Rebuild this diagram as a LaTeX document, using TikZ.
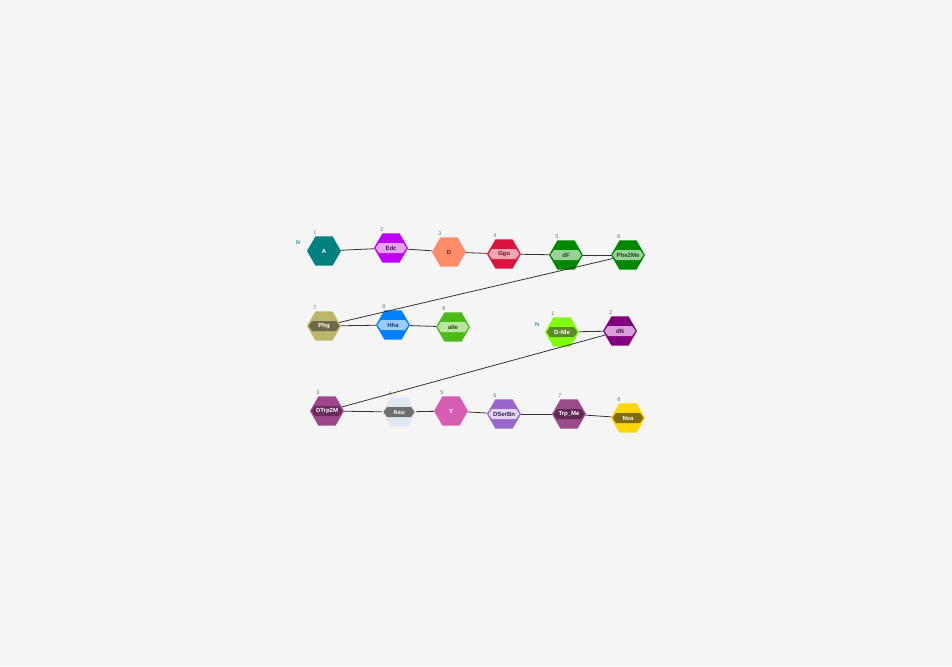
\documentclass[tikz,border=0pt]{standalone}
\usepackage{fontspec}
\setmainfont{Liberation Sans}
\usetikzlibrary{shapes.geometric,shapes.symbols}
\definecolor{bg}{HTML}{F5F5F5}
\definecolor{edgegrey}{HTML}{333333}
\definecolor{numgrey}{HTML}{707070}
\definecolor{nteal}{HTML}{2A93A8}
\definecolor{cA}{HTML}{008080}
\definecolor{cEdc}{HTML}{BF00FF}\definecolor{tEdc}{HTML}{E6A2F2}\definecolor{xEdc}{HTML}{4A1050}
\definecolor{cD}{HTML}{FF8C69}\definecolor{xD}{HTML}{5A2A1A}
\definecolor{cGgu}{HTML}{DC143C}\definecolor{tGgu}{HTML}{F4A6B4}\definecolor{xGgu}{HTML}{5A1020}
\definecolor{cGreen}{HTML}{008800}\definecolor{tGreen}{HTML}{99D199}\definecolor{xGreen}{HTML}{1A4A1A}
\definecolor{cPhg}{HTML}{BDB76B}\definecolor{tPhg}{HTML}{6B6A48}
\definecolor{cHha}{HTML}{0080FF}\definecolor{tHha}{HTML}{99CCFF}\definecolor{xHha}{HTML}{1A3A6A}
\definecolor{cIle}{HTML}{4CBB17}\definecolor{tIle}{HTML}{B8E6A0}\definecolor{xIle}{HTML}{1A4A10}
\definecolor{cNle}{HTML}{7FFF00}\definecolor{tNle}{HTML}{5B8C2A}
\definecolor{cdN}{HTML}{800080}\definecolor{tdN}{HTML}{D8A0D8}\definecolor{xdN}{HTML}{4A104A}
\definecolor{cTrp}{HTML}{9E468C}\definecolor{tTrp}{HTML}{6A2A5C}
\definecolor{cAsu}{HTML}{E2E6EE}\definecolor{tAsu}{HTML}{6E7070}
\definecolor{cY}{HTML}{D65DB1}
\definecolor{cSer}{HTML}{9966CC}\definecolor{tSer}{HTML}{E2D6F2}\definecolor{xSer}{HTML}{3A2050}
\definecolor{cTme}{HTML}{9B4A8B}\definecolor{tTme}{HTML}{5E2A52}
\definecolor{cNva}{HTML}{FFD700}\definecolor{tNva}{HTML}{7F6A10}
\tikzset{
  hex/.style={regular polygon, regular polygon sides=6, minimum size=34pt, inner sep=0pt, draw=none},
  tag/.style={signal, signal to=east and west, signal pointer angle=110, minimum width=31pt, minimum height=10pt, inner sep=0pt, font=\fontsize{6}{6}\selectfont\bfseries},
  plaintxt/.style={font=\fontsize{6}{6}\selectfont\bfseries},
  idx/.style={font=\fontsize{5.5}{5.5}\selectfont, text=numgrey, inner sep=0pt},
  link/.style={draw=edgegrey, line width=0.8pt},
  nterm/.style={font=\fontsize{5.5}{5.5}\selectfont\bfseries, text=nteal, inner sep=0pt}
}
\newcommand\resbox[8]{%
  \node[hex, fill=#4] (#1) at (#2,#3) {};
  \node[tag, fill=#5, text=#6] (#1-t) at (#1.center) {#7};
  \node[idx] (#1-n) at ([shift={(-9,-18)}]#1.center) {#8};
}
\newcommand\resplain[7]{%
  \node[hex, fill=#4, text=#5, plaintxt] (#1) at (#2,#3) {#6};
  \node[idx] (#1-n) at ([shift={(-9,-18)}]#1.center) {#7};
}
\begin{document}
\begin{tikzpicture}[x=1pt,y=-1pt]
\fill[bg] (0,0) rectangle (952,666);
\useasboundingbox (0,0) rectangle (952,666);
% chain 1
\resplain{r1}{324}{251}{cA}{white}{A}{1}
\resbox{r2}{391}{248}{cEdc}{tEdc}{xEdc}{Edc}{2}
\resplain{r3}{449}{252}{cD}{xD}{D}{3}
\resbox{r4}{504}{254}{cGgu}{tGgu}{xGgu}{Ggu}{4}
\resbox{r5}{566}{255}{cGreen}{tGreen}{xGreen}{dF}{5}
\resbox{r6}{628}{255}{cGreen}{tGreen}{xGreen}{Phe2Me}{6}
\resbox{r7}{324}{326}{cPhg}{tPhg}{white}{Phg}{7}
\resbox{r8}{393}{325}{cHha}{tHha}{xHha}{Hha}{8}
\resbox{r9}{453}{327}{cIle}{tIle}{xIle}{aIle}{9}
\node[nterm] (nA) at ([shift={(-26,-8)}]r1.center) {N};
% chain 2
\resbox{s1}{562}{332}{cNle}{tNle}{white}{D-Nle}{1}
\resbox{s2}{620}{331}{cdN}{tdN}{xdN}{dN}{2}
\resbox{s3}{327}{411}{cTrp}{tTrp}{white}{DTrp2M}{3}
\resbox{s4}{399}{412}{cAsu}{tAsu}{white}{Asu}{4}
\resplain{s5}{451}{411}{cY}{white}{Y}{5}
\resbox{s6}{504}{414}{cSer}{tSer}{xSer}{DSerBn}{6}
\resbox{s7}{569}{414}{cTme}{tTme}{white}{Trp\_Me}{7}
\resbox{s8}{628}{418}{cNva}{tNva}{white}{Nva}{8}
\node[nterm] (nB) at ([shift={(-25,-7)}]s1.center) {N};
% links
\draw[link] (r1) -- (r2);
\draw[link] (r2) -- (r3);
\draw[link] (r3) -- (r4);
\draw[link] (r4) -- (r5);
\draw[link] (r5) -- (r6);
\draw[link] (r6) -- (r7);
\draw[link] (r7) -- (r8);
\draw[link] (r8) -- (r9);
\draw[link] (s1) -- (s2);
\draw[link] (s2) -- (s3);
\draw[link] (s3) -- (s4);
\draw[link] (s4) -- (s5);
\draw[link] (s5) -- (s6);
\draw[link] (s6) -- (s7);
\draw[link] (s7) -- (s8);
\end{tikzpicture}
\end{document}
